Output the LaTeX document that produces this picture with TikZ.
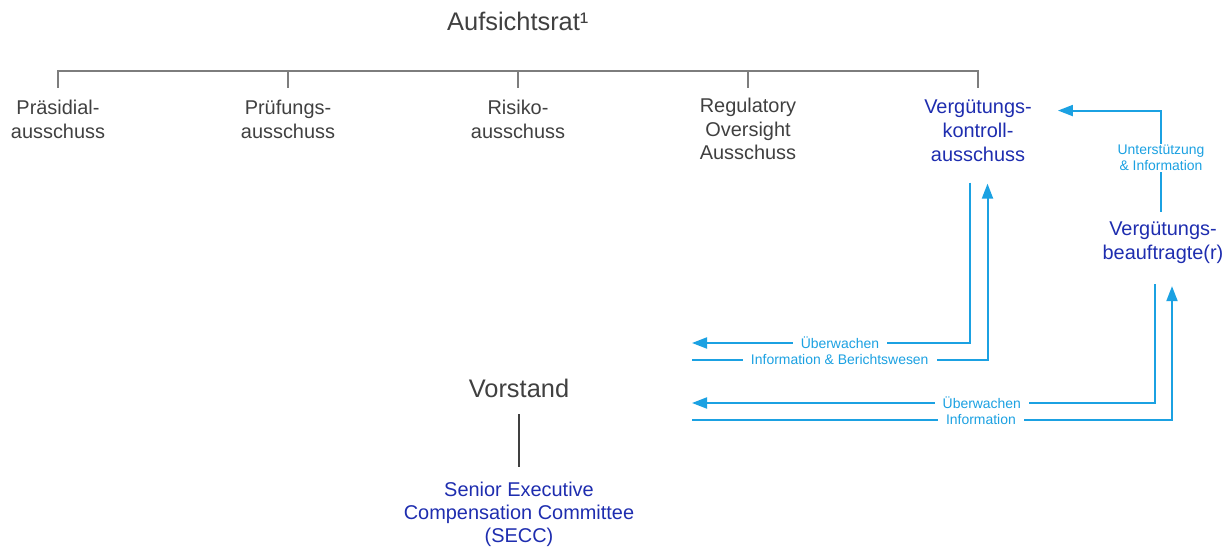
\documentclass[tikz,border=0pt]{standalone}
\usepackage{fontspec}
\setmainfont{Liberation Sans}
\usetikzlibrary{arrows.meta}
\definecolor{txtgray}{RGB}{64,64,64}
\definecolor{linegray}{RGB}{125,125,125}
\definecolor{navy}{RGB}{30,45,175}
\definecolor{lblue}{RGB}{27,161,226}
\begin{document}
\begin{tikzpicture}[x=1bp,y=-1bp,
  com/.style={font=\fontsize{20}{24}\selectfont, align=center, inner sep=0pt, anchor=north},
  big/.style={font=\fontsize{25.5}{30}\selectfont, inner sep=0pt},
  grtxt/.style={text=txtgray},
  bltxt/.style={text=navy},
  treeline/.style={draw=linegray, line width=1.3bp},
  conn/.style={draw=lblue, line width=2bp},
  arr/.style={-{Triangle[length=15bp,width=11bp]}},
  lbl/.style={font=\fontsize{14}{16}\selectfont, text=lblue, fill=white, inner xsep=8bp, inner ysep=1bp, align=center}]
\useasboundingbox (0,0) rectangle (1229,549);
% top
\node[big,grtxt,anchor=north west] (ar) at (447,12) {Aufsichtsrat¹};
% committees
\node[com,grtxt] (praes) at (58,99.5) {Präsidial-\\ausschuss};
\node[com,grtxt] (pruef) at (288,99.5) {Prüfungs-\\ausschuss};
\node[com,grtxt] (risk) at (518,99.5) {Risiko-\\ausschuss};
\node[com,grtxt] (rego) at (748,97.5) {Regulatory\\Oversight\\Ausschuss};
\node[com,bltxt] (vka) at (978,99.5) {Vergütungs-\\kontroll-\\ausschuss};
\node[com,bltxt] (bea) at (1163,222) {Vergütungs-\\beauftragte(r)};
% management
\node[big,grtxt,anchor=north] (vst) at (519,379) {Vorstand};
\node[com,bltxt,font=\fontsize{20}{23}\selectfont] (secc) at (519,482) {Senior Executive\\Compensation Committee\\(SECC)};
% tree
\coordinate (bar) at (0,71);
\coordinate (drop) at (0,88);
\draw[treeline] (praes |- drop) -- (praes |- bar) -- (vka |- bar) -- (vka |- drop);
\foreach \n in {pruef,risk,rego} \draw[treeline] (\n |- bar) -- (\n |- drop);
\draw[draw=txtgray, line width=1.2bp, shorten <=16bp, shorten >=15bp] (vst.south) -- (secc.north);
% free ends towards Vorstand
\coordinate (e1) at (692,343);
\coordinate (e2) at (692,360);
\coordinate (e3) at (692,403);
\coordinate (e4) at (692,420);
% connectors
\draw[conn,arr] ([xshift=-2bp,yshift=10bp]bea.north) |- node[lbl,pos=0.265]{Unterstützung\\\& Information} ([xshift=26bp,yshift=20bp]vka.east);
\draw[conn,arr] ([xshift=-8bp,yshift=-21bp]vka.south) |- node[lbl,pos=0.734]{Überwachen} (e1);
\draw[conn,arr] (e2) -| node[lbl,pos=0.25]{Information \& Berichtswesen} ([xshift=9.5bp,yshift=-22bp]vka.south);
\draw[conn,arr] ([xshift=-8bp,yshift=-20bp]bea.south) |- node[lbl,pos=0.687]{Überwachen} (e3);
\draw[conn,arr] (e4) -| node[lbl,pos=0.301]{Information} ([xshift=9bp,yshift=-22bp]bea.south);
\end{tikzpicture}
\end{document}
